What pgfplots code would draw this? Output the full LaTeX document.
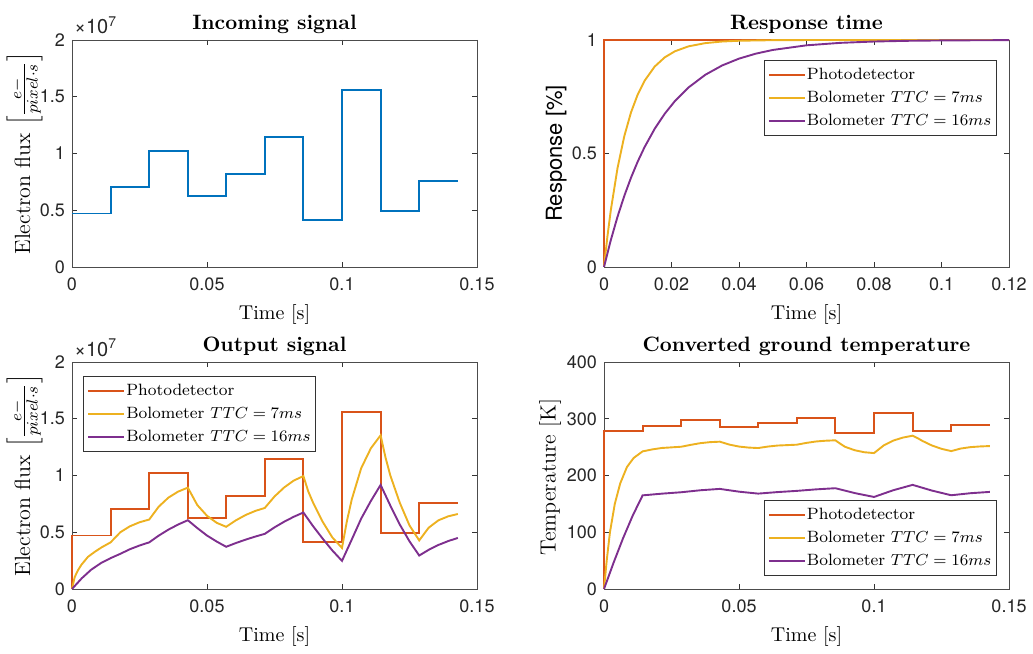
\documentclass[border=0pt]{standalone}
\usepackage{fontspec}
\setsansfont{TeX Gyre Heros}
\usepackage{pgfplots}
\pgfplotsset{compat=1.18}

\definecolor{mblue}{rgb}{0,0.447,0.741}
\definecolor{mred}{rgb}{0.850,0.325,0.098}
\definecolor{myellow}{rgb}{0.929,0.694,0.125}
\definecolor{mpurple}{rgb}{0.494,0.184,0.556}

\pgfplotsset{
  mat/.style={
    scale only axis, width=202.5pt, height=113.5pt, anchor=south west,
    axis line style={black!70, line width=0.45pt},
    tick style={black!80, line width=0.4pt},
    major tick length=2.5pt,
    tick align=inside,
    ticklabel style={font=\sffamily\fontsize{9}{10}\selectfont, text=black!85},
    xticklabel style={yshift=-2pt},
    scaled ticks=false,
    clip=false,
    title style={font=\bfseries\fontsize{10.4}{12}\selectfont, at={(0.5,1.085)}, anchor=center, yshift=-8pt, inner sep=1pt},
    xlabel style={font=\fontsize{10}{12}\selectfont, at={(axis description cs:0.5,-0.211)}, anchor=center, inner sep=1pt},
    ylabel style={font=\fontsize{11}{13}\selectfont, anchor=center, inner sep=0.5pt},
    legend style={font=\fontsize{8.2}{10}\selectfont, draw=black!80, line width=0.4pt, fill=white,
      inner sep=2pt, row sep=0.9pt, nodes={inner sep=0.6pt, text height=7pt, text depth=2.4pt}},
    legend cell align=left,
    legend image code/.code={\draw[##1, line width=0.9pt] (0pt,0pt) -- (18pt,0pt);},
    every axis plot/.append style={line width=0.95pt},
  },
  xflux/.style={xmin=0, xmax=0.15, xtick={0,0.05,0.1,0.15}, xticklabels={0,0.05,0.1,0.15}},
}

\begin{document}
\begin{tikzpicture}
\path[use as bounding box] (0,0) rectangle (516.5pt,326.5pt);

% incoming signal
\begin{axis}[mat, xflux, at={(36pt,193pt)},
  ymin=0, ymax=2, ytick={0,0.5,1,1.5,2}, yticklabels={0,0.5,1,1.5,2},
  title={Incoming signal}, xlabel={Time [s]},
  ylabel={Electron flux $\left[\frac{e-}{pixel\cdot s}\right]$},
  ylabel style={at={(axis description cs:-0.117,0.5)}}]
\addplot[mblue, const plot] coordinates {
  (0,0.471) (0.014286,0.705) (0.028571,1.025) (0.042857,0.627) (0.057143,0.822)
  (0.071429,1.144) (0.085714,0.415) (0.1,1.557) (0.114286,0.492) (0.128571,0.760) (0.142857,0.760)};
\node[anchor=base west, yshift=3pt, inner sep=0pt, font=\sffamily\fontsize{10}{11}\selectfont, text=black!85]
  at (rel axis cs:0.005,1) {×10\textsuperscript{7}};
\end{axis}

% response time
\begin{axis}[mat, at={(302pt,193pt)},
  xmin=0, xmax=0.12, xtick={0,0.02,0.04,0.06,0.08,0.1,0.12},
  xticklabels={0,0.02,0.04,0.06,0.08,0.1,0.12},
  ymin=0, ymax=1, ytick={0,0.5,1}, yticklabels={0,0.5,1},
  title={Response time}, xlabel={Time [s]},
  ylabel={\sffamily Response [\%]},
  ylabel style={at={(axis description cs:-0.118,0.5)}},
  legend style={at={(rel axis cs:0.970,0.911)}, anchor=north east}]
\addplot[mred] coordinates {(0,0) (0,1) (0.12,1)};
\addplot[myellow] coordinates {
  (0,0) (0.001,0.1331) (0.002,0.2485) (0.004,0.4353) (0.006,0.5756) (0.008,0.6811)
  (0.010,0.7603) (0.012,0.8199) (0.015,0.8827) (0.018,0.9236) (0.021,0.9502)
  (0.025,0.9719) (0.030,0.9862) (0.035,0.9933) (0.040,0.9967) (0.050,0.9992)
  (0.060,0.9998) (0.120,1)};
\addplot[mpurple] coordinates {
  (0,0) (0.002,0.1175) (0.004,0.2212) (0.006,0.3127) (0.008,0.3935) (0.010,0.4647)
  (0.012,0.5276) (0.015,0.6084) (0.018,0.6753) (0.021,0.7309) (0.025,0.7904)
  (0.030,0.8466) (0.035,0.8878) (0.040,0.9179) (0.045,0.9399) (0.050,0.9561)
  (0.060,0.9765) (0.070,0.9874) (0.080,0.9933) (0.090,0.9964) (0.100,0.9981) (0.120,0.9994)};
\legend{Photodetector, Bolometer $TTC = 7ms$, Bolometer $TTC = 16ms$}
\end{axis}

% output signal
\begin{axis}[mat, xflux, at={(36pt,32pt)},
  ymin=0, ymax=2, ytick={0,0.5,1,1.5,2}, yticklabels={0,0.5,1,1.5,2},
  title={Output signal}, xlabel={Time [s]},
  ylabel={Electron flux $\left[\frac{e-}{pixel\cdot s}\right]$},
  ylabel style={at={(axis description cs:-0.117,0.5)}},
  legend style={at={(rel axis cs:0.027,0.939)}, anchor=north west}]
\addplot[mred, const plot] coordinates {
  (0,0) (0,0.471) (0.014286,0.705) (0.028571,1.025) (0.042857,0.627) (0.057143,0.822)
  (0.071429,1.144) (0.085714,0.415) (0.1,1.557) (0.114286,0.492) (0.128571,0.760) (0.142857,0.760)};
\addplot[myellow] coordinates {
  (0,0) (0.001,0.105) (0.0022,0.165) (0.0035,0.214) (0.0059,0.283) (0.0084,0.327)
  (0.0109,0.366) (0.0143,0.411)
  (0.0179,0.500) (0.0214,0.552) (0.0250,0.588) (0.0286,0.612)
  (0.0321,0.725) (0.0357,0.805) (0.0393,0.858) (0.0429,0.893)
  (0.0464,0.740) (0.0500,0.645) (0.0536,0.583) (0.0571,0.548)
  (0.0607,0.605) (0.0643,0.652) (0.0679,0.688) (0.0714,0.714)
  (0.0750,0.815) (0.0786,0.895) (0.0821,0.955) (0.0857,0.995)
  (0.0875,0.860) (0.0893,0.760) (0.0929,0.590) (0.0964,0.455) (0.1000,0.362)
  (0.1018,0.596) (0.1036,0.788) (0.1071,1.064) (0.1107,1.240) (0.1143,1.354)
  (0.1161,1.160) (0.1179,1.000) (0.1214,0.760) (0.1250,0.560) (0.1286,0.428)
  (0.1321,0.540) (0.1357,0.605) (0.1393,0.640) (0.1429,0.661)};
\addplot[mpurple] coordinates {
  (0,0) (0.0036,0.094) (0.0071,0.170) (0.0107,0.228) (0.0143,0.272)
  (0.0179,0.310) (0.0214,0.350) (0.0250,0.383) (0.0286,0.411)
  (0.0321,0.470) (0.0357,0.523) (0.0393,0.568) (0.0429,0.606)
  (0.0464,0.537) (0.0500,0.471) (0.0536,0.418) (0.0571,0.372)
  (0.0607,0.405) (0.0643,0.435) (0.0679,0.462) (0.0714,0.486)
  (0.0750,0.543) (0.0786,0.593) (0.0821,0.636) (0.0857,0.674)
  (0.0893,0.553) (0.0929,0.442) (0.0964,0.340) (0.1000,0.248)
  (0.1036,0.435) (0.1071,0.620) (0.1107,0.776) (0.1143,0.917)
  (0.1179,0.735) (0.1214,0.568) (0.1250,0.420) (0.1286,0.295)
  (0.1321,0.345) (0.1357,0.388) (0.1393,0.422) (0.1429,0.450)};
\legend{Photodetector, Bolometer $TTC = 7ms$, Bolometer $TTC = 16ms$}
\node[anchor=base west, yshift=3pt, inner sep=0pt, font=\sffamily\fontsize{10}{11}\selectfont, text=black!85]
  at (rel axis cs:0.005,1) {×10\textsuperscript{7}};
\end{axis}

% converted ground temperature
\begin{axis}[mat, xflux, at={(302pt,32pt)},
  ymin=0, ymax=400, ytick={0,100,200,300,400}, yticklabels={0,100,200,300,400},
  title={Converted ground temperature}, xlabel={Time [s]},
  ylabel={Temperature [K]},
  ylabel style={at={(axis description cs:-0.133,0.493)}},
  legend style={at={(rel axis cs:0.970,0.059)}, anchor=south east}]
\addplot[mred, const plot] coordinates {
  (0,0) (0,278) (0.014286,288) (0.028571,298) (0.042857,285) (0.057143,292.5)
  (0.071429,301) (0.085714,275.5) (0.1,309.7) (0.114286,279) (0.128571,289.7) (0.142857,289.7)};
\addplot[myellow] coordinates {
  (0,0) (0.001,50) (0.0022,100) (0.0040,150) (0.0060,186) (0.0085,215) (0.0110,231) (0.0143,242.5)
  (0.0179,246) (0.0214,248.5) (0.0286,250.7)
  (0.0321,254) (0.0357,257) (0.0393,258.8) (0.0429,259.6)
  (0.0464,254.5) (0.0500,251) (0.0536,249.2) (0.0571,248.4)
  (0.0607,251) (0.0643,252.8) (0.0714,254.3)
  (0.0750,257.5) (0.0786,260) (0.0821,261.3) (0.0857,262)
  (0.0875,256) (0.0893,250.5) (0.0929,244.5) (0.0964,241) (0.1000,239.5)
  (0.1036,253) (0.1071,261.5) (0.1107,266.8) (0.1143,270.2)
  (0.1161,266) (0.1179,261) (0.1214,253) (0.1250,247) (0.1286,243)
  (0.1321,247.5) (0.1357,250) (0.1393,251.2) (0.1429,251.9)};
\addplot[mpurple] coordinates {
  (0,0) (0.0036,47) (0.0071,90) (0.0107,130) (0.0143,165)
  (0.0214,168) (0.0286,170.5) (0.0357,174) (0.0429,176.4)
  (0.0500,171.5) (0.0571,168.1) (0.0643,170.8) (0.0714,172.9)
  (0.0786,175.6) (0.0857,177.6) (0.0929,169) (0.1000,162.2)
  (0.1071,174) (0.1143,183.5) (0.1214,173.5) (0.1286,165.2)
  (0.1357,168.8) (0.1429,171.1)};
\legend{Photodetector, Bolometer $TTC = 7ms$, Bolometer $TTC = 16ms$}
\end{axis}
\end{tikzpicture}
\end{document}
